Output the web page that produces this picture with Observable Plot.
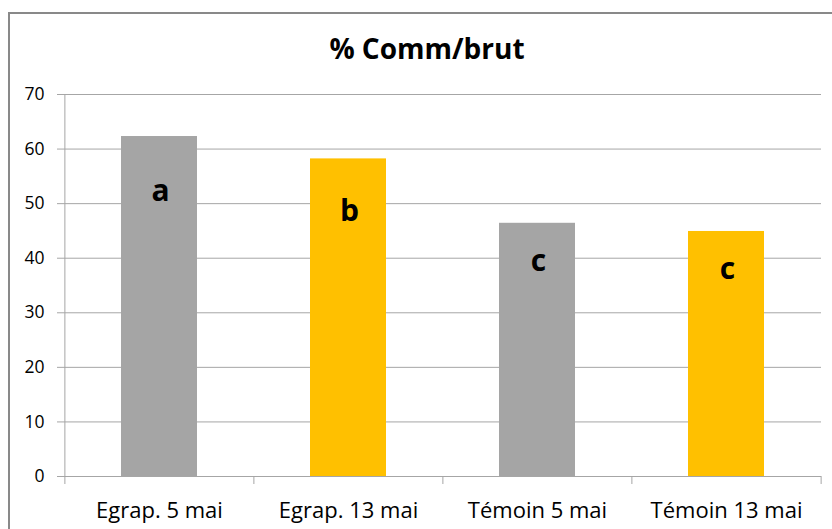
<!DOCTYPE html>
<html><head><meta charset="utf-8">
<script src="https://cdn.jsdelivr.net/npm/d3@7"></script>
<script src="https://cdn.jsdelivr.net/npm/@observablehq/plot@0.6"></script>
<style>
body{margin:0;width:832px;height:529px;overflow:hidden;background:#fff;font-family:"Open Sans",sans-serif;position:relative}
#frame{position:absolute;left:8px;top:12px;width:900px;height:600px;border:2px solid #898989;box-sizing:border-box}
#title{position:absolute;left:0;width:854px;top:34px;line-height:28px;text-align:center;font-weight:bold;font-size:28px;color:#000}
#chart{position:absolute;left:0;top:0}
</style></head>
<body>
<div id="frame"></div>
<div id="title">% Comm/brut</div>
<div id="chart"></div>
<script>
const categories = ["Egrap. 5 mai", "Egrap. 13 mai", "Témoin 5 mai", "Témoin 13 mai"];
const dates = ["5 mai", "13 mai", "5 mai", "13 mai"];
const values = [62.3, 58.2, 46.4, 44.9];
const letters = ["a", "b", "c", "c"];
const letterLevels = [50.4, 46.9, 37.7, 36.2];
const yTicks = [0, 10, 20, 30, 40, 50, 60, 70];

const data = categories.map((c, i) => ({cat: c, date: dates[i], value: values[i], letter: letters[i], level: letterLevels[i]}));

const W = 832, H = 529, mL = 64, mR = 11, mT = 94, mB = 53;
const pIn = 0.6, pOut = 0.3;
const step = (W - mL - mR) / (categories.length - pIn + 2 * pOut);
const grid = "#a6a6a6";

const chart = Plot.plot({
  width: W, height: H,
  marginLeft: mL, marginRight: mR, marginTop: mT, marginBottom: mB,
  style: {fontFamily: "'Open Sans', sans-serif", background: "transparent", color: "#000"},
  x: {domain: categories, paddingInner: pIn, paddingOuter: pOut, label: null},
  y: {domain: [0, 70], label: null},
  color: {domain: ["5 mai", "13 mai"], range: ["#a5a5a5", "#ffc000"]},
  marks: [
    Plot.gridY(yTicks, {stroke: grid, strokeOpacity: 1}),
    Plot.barY(data, {x: "cat", y: "value", fill: "date"}),
    Plot.ruleY([0], {stroke: grid}),
    Plot.ruleX([categories[0]], {dx: -step / 2, y1: 0, y2: 70, stroke: grid}),
    Plot.axisY(yTicks, {tickSize: 7, tickPadding: 13, fontSize: 17.5, stroke: grid, fill: "#000", label: null}),
    Plot.axisX({tickSize: 0, tickPadding: 26, fontSize: 22, fill: "#000", label: null}),
    Plot.axisX(categories, {tickSize: 8, tickFormat: () => "", dx: -step / 2, stroke: grid, label: null}),
    Plot.axisX([categories[categories.length - 1]], {tickSize: 8, tickFormat: () => "", dx: step / 2, stroke: grid, label: null}),
    Plot.text(data, {x: "cat", y: "level", text: "letter", lineAnchor: "bottom", dx: 1, fontSize: 30, fontWeight: "bold", fill: "#000"})
  ]
});
document.getElementById("chart").appendChild(chart);
</script>
</body></html>
